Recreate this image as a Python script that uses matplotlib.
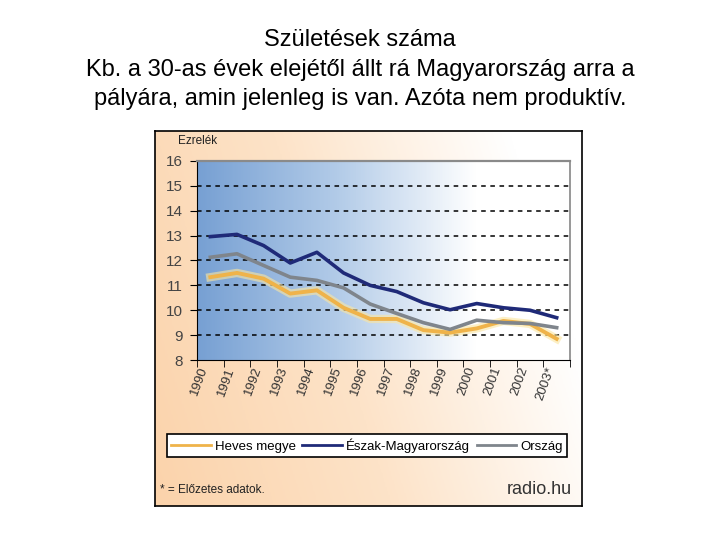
import numpy as np
import matplotlib.pyplot as plt
from matplotlib.colors import LinearSegmentedColormap
from matplotlib.lines import Line2D

plt.rcParams['font.family'] = ['Liberation Sans', 'DejaVu Sans']

years = ['1990', '1991', '1992', '1993', '1994', '1995', '1996',
         '1997', '1998', '1999', '2000', '2001', '2002', '2003*']
heves = [11.33, 11.5, 11.27, 10.67, 10.8, 10.1, 9.65,
         9.65, 9.2, 9.1, 9.27, 9.57, 9.45, 8.85]
eszak = [12.96, 13.05, 12.6, 11.9, 12.33, 11.5, 11.0,
         10.75, 10.3, 10.02, 10.27, 10.1, 10.0, 9.7]
orszag = [12.13, 12.27, 11.8, 11.33, 11.2, 10.9, 10.25,
          9.87, 9.5, 9.23, 9.6, 9.5, 9.47, 9.3]
series_names = ['Heves megye', 'Észak-Magyarország', 'Ország']
yticks = [8, 9, 10, 11, 12, 13, 14, 15, 16]

W, H = 720, 540
fig = plt.figure(figsize=(7.2, 5.4), dpi=100)

# title
title_lines = ['Születések száma',
               'Kb. a 30-as évek elejétől állt rá Magyarország arra a',
               'pályára, amin jelenleg is van. Azóta nem produktív.']
for i, line in enumerate(title_lines):
    fig.text(0.5, 1 - (40 + i * 29.5) / H, line, ha='center', va='center',
             fontsize=17, color='black')

# outer chart panel with peach gradient
px0, px1, py0, py1 = 155, 582, 131, 506
panel = fig.add_axes([px0 / W, 1 - py1 / H, (px1 - px0) / W, (py1 - py0) / H])
peach = LinearSegmentedColormap.from_list('peach', ['#fbd3ab', '#fde3c8', '#ffffff'])
gx = np.linspace(0, 1, 300)
gy = np.linspace(0, 1, 200)
GX, GY = np.meshgrid(gx, gy)
panel.imshow(np.clip(GX * 0.9 + GY * 0.25, 0, 1), cmap=peach,
             extent=[0, 1, 0, 1], aspect='auto', origin='lower')
panel.set_xlim(0, 1)
panel.set_ylim(0, 1)
panel.set_xticks([])
panel.set_yticks([])
for s in panel.spines.values():
    s.set_color('black')
    s.set_linewidth(1.2)

# plot area
ax0, ax1, ay0, ay1 = 197, 570, 161, 360
ax = fig.add_axes([ax0 / W, 1 - ay1 / H, (ax1 - ax0) / W, (ay1 - ay0) / H])
blue = LinearSegmentedColormap.from_list('blue', ['#77a0d3', '#b2cbe8', '#ffffff'])
ax.imshow(np.clip(GX / 0.75, 0, 1), cmap=blue, extent=[-0.5, 13.5, 8, 16],
          aspect='auto', origin='lower', zorder=0)

x = np.arange(len(years))
for yv in yticks[1:-1]:
    ax.axhline(yv, color='black', lw=1.1, ls=(0, (3, 3)), zorder=1)

ax.plot(x, heves, color='#fbe6a0', lw=6, alpha=0.6, solid_joinstyle='round', zorder=2)
ax.plot(x, heves, color='#efb34a', lw=2.8, solid_joinstyle='round', zorder=3)
ax.plot(x, orszag, color='#7f858c', lw=2.6, solid_joinstyle='round', zorder=3)
ax.plot(x, eszak, color='#1f2a78', lw=2.6, solid_joinstyle='round', zorder=4)

ax.set_xlim(-0.5, 13.5)
ax.set_ylim(8, 16)
ax.set_yticks(yticks)
ax.set_yticklabels([str(v) for v in yticks], fontsize=11, color='#444444')
ax.set_xticks(x)
ax.set_xticklabels(years, rotation=70, ha='right', fontsize=9.5, color='#333333')
ax.set_xticks(np.arange(-0.5, 14, 1), minor=True)
ax.tick_params(axis='x', which='major', length=0, pad=4)
ax.tick_params(axis='x', which='minor', length=5, direction='out', color='black')
ax.tick_params(axis='y', length=5, direction='out', color='black', pad=5)
ax.spines['top'].set_color('#8a8a8a')
ax.spines['top'].set_linewidth(1.6)
ax.spines['right'].set_color('#909090')
ax.spines['right'].set_linewidth(1.3)
ax.spines['left'].set_color('black')
ax.spines['bottom'].set_color('black')

fig.text(178 / W, 1 - 141 / H, 'Ezrelék', fontsize=8.5, ha='left', va='center', color='#222222')

# legend
handles = [Line2D([], [], color='#efb34a', lw=2),
           Line2D([], [], color='#1f2a78', lw=2),
           Line2D([], [], color='#7f858c', lw=2)]
leg = fig.legend(handles, series_names, ncol=3,
                 bbox_to_anchor=(367 / W, 1 - 445.5 / H),
                 loc='center', fontsize=9.5, frameon=True, fancybox=False,
                 handlelength=3.0, handletextpad=0.3, columnspacing=0.5,
                 borderaxespad=0, borderpad=0.35)
leg.get_frame().set_edgecolor('black')
leg.get_frame().set_linewidth(1.2)
leg.get_frame().set_facecolor('white')
leg.get_frame().set_alpha(1)

fig.text(160 / W, 1 - 490 / H, '* = Előzetes adatok.', fontsize=8.5, ha='left',
         va='center', color='#222222')
fig.text(572 / W, 1 - 490 / H, 'radio.hu', fontsize=13, ha='right',
         va='center', color='#333333')

fig.savefig('out.png', dpi=100)
